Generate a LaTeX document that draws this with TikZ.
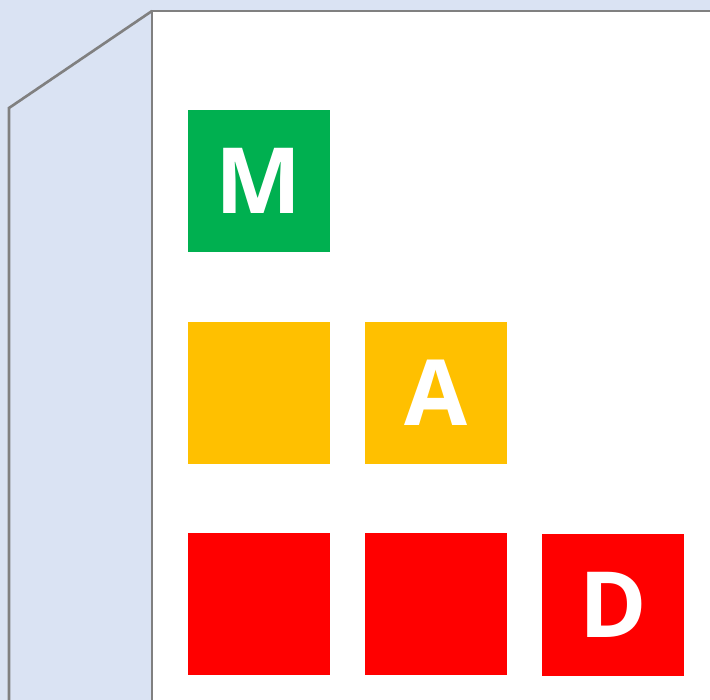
\documentclass[tikz,border=0pt]{standalone}
\usepackage{fontspec}
\setmainfont{Open Sans}
\definecolor{sidebg}{HTML}{DAE3F3}
\definecolor{okgreen}{HTML}{00B050}
\definecolor{warnyellow}{HTML}{FFC000}
\definecolor{badred}{HTML}{FF0000}
\definecolor{edgegray}{HTML}{808080}
\begin{document}
\begin{tikzpicture}[tile/.style={minimum size=2.84cm, inner sep=0pt, text=white, font=\fontsize{52}{52}\selectfont\bfseries}]
            % Background and box faces
            \fill[sidebg] (0,0) rectangle (14.2,14);
            \useasboundingbox (0,0) rectangle (14.2,14);
            \begin{scope}
            \clip (0,0) rectangle (14.2,14);
            \draw[edgegray, line width=1.5pt, fill=white] (3.04,-1) rectangle (15,13.78);
            \draw[edgegray, line width=1.5pt] (0.18,-1) -- (0.18,11.84) -- (3.04,13.78);
            \end{scope}

            % Tiles
            \node[tile, fill=okgreen] (M) at (5.18,10.38) {M};
            \node[tile, fill=warnyellow] (Y1) at (5.18,6.14) {};
            \node[tile, fill=warnyellow] (A) at (8.72,6.14) {A};
            \node[tile, fill=badred] (R1) at (5.18,1.92) {};
            \node[tile, fill=badred] (R2) at (8.72,1.92) {};
            \node[tile, fill=badred] (D) at (12.26,1.90) {D};
        \end{tikzpicture}
\end{document}
